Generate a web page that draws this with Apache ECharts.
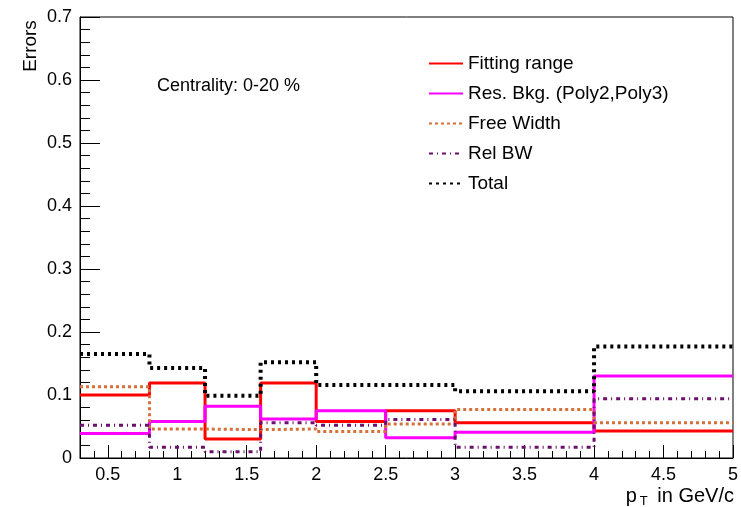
<!DOCTYPE html>
<html>
<head>
<meta charset="utf-8">
<script src="https://cdn.jsdelivr.net/npm/echarts@6/dist/echarts.min.js"></script>
<style>
  html, body { margin: 0; padding: 0; background: #fff; }
  #chart { width: 741px; height: 507px; }
</style>
</head>
<body>
<div id="chart"></div>
<script>
// pT bin edges (GeV/c)
var binEdges = [0.3, 0.8, 1.2, 1.6, 2.0, 2.5, 3.0, 4.0, 5.0];

// Systematic error contributions per pT bin
var fittingRange = [0.100, 0.119, 0.030, 0.119, 0.058, 0.075, 0.056, 0.043];
var resBkg       = [0.039, 0.058, 0.082, 0.062, 0.075, 0.032, 0.041, 0.130];
var freeWidth    = [0.113, 0.046, 0.045, 0.046, 0.042, 0.054, 0.077, 0.056];
var relBW        = [0.052, 0.017, 0.010, 0.056, 0.052, 0.061, 0.017, 0.094];
var total        = [0.165, 0.143, 0.099, 0.152, 0.116, 0.116, 0.106, 0.177];

var seriesNames = ['Fitting range', 'Res. Bkg. (Poly2,Poly3)', 'Free Width', 'Rel BW', 'Total'];

// Axis tick positions
var xMajorTicks = [0.5, 1, 1.5, 2, 2.5, 3, 3.5, 4, 4.5, 5];
var xMinorTicks = [0.4, 0.6, 0.7, 0.8, 0.9, 1.1, 1.2, 1.3, 1.4, 1.6, 1.7, 1.8, 1.9,
                   2.1, 2.2, 2.3, 2.4, 2.6, 2.7, 2.8, 2.9, 3.1, 3.2, 3.3, 3.4,
                   3.6, 3.7, 3.8, 3.9, 4.1, 4.2, 4.3, 4.4, 4.6, 4.7, 4.8, 4.9];

// Build histogram step points: each bin starts at its low edge, last point closes at the upper edge
function histPoints(vals) {
  var pts = [];
  for (var i = 0; i < vals.length; i++) pts.push([binEdges[i], vals[i]]);
  pts.push([binEdges[binEdges.length - 1], vals[vals.length - 1]]);
  return pts;
}

var FONT = 'Liberation Sans, Arial, Helvetica, sans-serif';

function stepSeries(name, vals, color, width, type) {
  return {
    name: name,
    type: 'line',
    step: 'end',
    symbol: 'none',
    xAxisIndex: 0,
    yAxisIndex: 0,
    data: histPoints(vals),
    lineStyle: { color: color, width: width, type: type, cap: 'butt' },
    itemStyle: { color: color },
    animation: false
  };
}

var chart = echarts.init(document.getElementById('chart'), null, { renderer: 'canvas' });

chart.setOption({
  backgroundColor: '#ffffff',
  animation: false,
  grid: {
    left: 80, right: 6, top: 17, bottom: 49,
    show: true, borderColor: '#000', borderWidth: 1, backgroundColor: 'transparent'
  },
  xAxis: [
    {
      type: 'value', min: 0.3, max: 5, position: 'bottom',
      axisLine: { show: true, onZero: false, lineStyle: { color: '#000', width: 1 } },
      axisTick: { show: true, inside: true, length: 13, customValues: xMajorTicks, lineStyle: { color: '#000' } },
      axisLabel: {
        show: true, customValues: xMajorTicks, color: '#000', fontFamily: FONT, fontSize: 18, margin: 8,
        formatter: function (v) { return String(v); }
      },
      splitLine: { show: false }
    },
    {
      type: 'value', min: 0.3, max: 5, position: 'bottom',
      axisLine: { show: false, onZero: false },
      axisTick: { show: true, inside: true, length: 7, customValues: xMinorTicks, lineStyle: { color: '#000' } },
      axisLabel: { show: false },
      splitLine: { show: false }
    }
  ],
  yAxis: {
    type: 'value', min: 0, max: 0.7, interval: 0.1,
    axisLine: { show: true, onZero: false, lineStyle: { color: '#000', width: 1 } },
    axisTick: { show: true, inside: true, length: 20, lineStyle: { color: '#000' } },
    minorTick: { show: true, splitNumber: 5, length: 10, lineStyle: { color: '#000' } },
    axisLabel: {
      color: '#000', fontFamily: FONT, fontSize: 18, margin: 8,
      formatter: function (v) { return v === 0 ? '0' : v.toFixed(1); }
    },
    splitLine: { show: false }
  },
  legend: {
    orient: 'vertical',
    left: 428, top: 54, padding: 0,
    itemWidth: 34, itemHeight: 14, itemGap: 11,
    itemStyle: { opacity: 0, borderWidth: 0 },
    textStyle: { color: '#000', fontFamily: FONT, fontSize: 19, padding: [0, 0, 0, 0] },
    data: seriesNames
  },
  graphic: [
    {
      type: 'text', left: 157, top: 77,
      style: { text: 'Centrality: 0-20 %', fill: '#000', font: '18px ' + FONT }
    },
    {
      type: 'text', x: 31, y: 46, rotation: Math.PI / 2,
      style: { text: 'Errors', fill: '#000', font: '19px ' + FONT, align: 'center', verticalAlign: 'middle' }
    },
    {
      type: 'text', right: 7, top: 477,
      style: {
        text: '{a|p}{sub|T}{a| in GeV/c}', fill: '#000',
        rich: {
          a: { fontSize: 20, fontFamily: FONT, lineHeight: 22, verticalAlign: 'top', fill: '#000' },
          sub: { fontSize: 13, fontFamily: FONT, lineHeight: 13, verticalAlign: 'bottom', padding: [18, 4, 0, 3], fill: '#000' }
        }
      }
    }
  ],
  series: [
    stepSeries(seriesNames[0], fittingRange, '#ff0000', 3, 'solid'),
    stepSeries(seriesNames[1], resBkg, '#ff00ff', 3, 'solid'),
    stepSeries(seriesNames[2], freeWidth, '#d4703a', 3, [3, 3]),
    stepSeries(seriesNames[3], relBW, '#6a0f6a', 3, [4, 4, 1, 4]),
    stepSeries(seriesNames[4], total, '#000000', 4, [3, 4])
  ]
});
</script>
</body>
</html>
